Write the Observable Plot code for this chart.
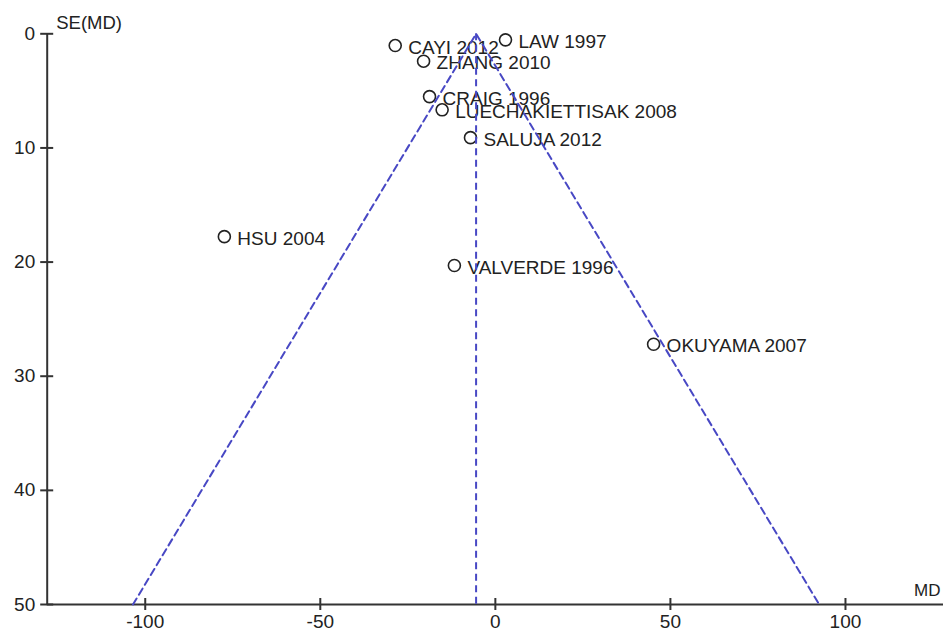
<!DOCTYPE html>
<html>
<head>
<meta charset="utf-8">
<script src="https://cdn.jsdelivr.net/npm/d3@7"></script>
<script src="https://cdn.jsdelivr.net/npm/@observablehq/plot@0.6"></script>
<style>
  html, body { margin: 0; padding: 0; background: #fff; }
  #chart { width: 946px; height: 631px; }
  svg { font-family: "Liberation Sans", Arial, sans-serif; }
</style>
</head>
<body>
<div id="chart"></div>
<script>
// Study names, mean differences (MD) and standard errors SE(MD)
const studies = ["LAW 1997", "CAYI 2012", "ZHANG 2010", "CRAIG 1996", "LUECHAKIETTISAK 2008", "SALUJA 2012", "HSU 2004", "VALVERDE 1996", "OKUYAMA 2007"];
const md      = [2.9, -28.6, -20.5, -18.8, -15.2, -7.1, -77.4, -11.7, 45.2];
const se      = [0.53, 1.03, 2.4, 5.5, 6.66, 9.1, 17.77, 20.3, 27.2];

// Pooled estimate and funnel limits
const pooled = -5.5;
const seMax = 50;
const xTicks = [-100, -50, 0, 50, 100];
const yTicks = [0, 10, 20, 30, 40, 50];

const data = studies.map((s, i) => ({study: s, md: md[i], se: se[i]}));
const funnel = [
  {x: pooled - 1.96 * seMax, y: seMax},
  {x: pooled, y: 0},
  {x: pooled + 1.96 * seMax, y: seMax}
];

const blue = "#4848c4";
const axisColor = "#333";
const fmt = d => String(d);

const chart = Plot.plot({
  width: 946,
  height: 631,
  marginLeft: 46.7,
  marginRight: 3,
  marginTop: 33.3,
  marginBottom: 27,
  style: {fontFamily: "'Liberation Sans', Arial, sans-serif", fontSize: "19px", color: "#222", background: "#fff"},
  x: {domain: [-128, 128], label: null},
  y: {domain: [0, 50], reverse: true, label: null},
  marks: [
    Plot.axisX(xTicks, {tickSize: 0, tickPadding: 10, fontSize: 19, fill: "#222", label: null, tickFormat: fmt}),
    Plot.axisY(yTicks, {tickSize: 0, tickPadding: 12, fontSize: 19, fill: "#222", label: null, tickFormat: fmt}),
    // axis lines
    Plot.ruleY([50], {stroke: axisColor, strokeWidth: 2}),
    Plot.ruleX([-128], {stroke: axisColor, strokeWidth: 2}),
    // crossing ticks
    Plot.ruleX(xTicks, {x: d => d, y1: 50, y2: 50, insetTop: -6, insetBottom: -6, stroke: axisColor, strokeWidth: 2}),
    Plot.ruleY(yTicks, {y: d => d, x1: -128, x2: -128, insetLeft: -6.5, insetRight: -6.5, stroke: axisColor, strokeWidth: 2}),
    // axis titles
    Plot.text(["SE(MD)"], {x: -128, y: 0, dx: 9, dy: -5, textAnchor: "start", lineAnchor: "bottom", fontSize: 18.5, fill: "#222"}),
    Plot.text(["MD"], {x: 128, y: 50, dx: -3, dy: -9, textAnchor: "end", lineAnchor: "bottom", fontSize: 17, fill: "#222"}),
    // study labels and points
    Plot.text(data, {x: "md", y: "se", text: "study", textAnchor: "start", dx: 13, dy: 2, fontSize: 19, fill: "#222"}),
    Plot.dot(data, {x: "md", y: "se", r: 6, stroke: "#222", strokeWidth: 1.6, fill: "none"}),
    // funnel
    Plot.line(funnel, {x: "x", y: "y", stroke: blue, strokeWidth: 2, strokeDasharray: "7,4.5"}),
    Plot.ruleX([pooled], {x: d => d, y1: 0, y2: seMax, stroke: blue, strokeWidth: 2, strokeDasharray: "7,4.5"})
  ]
});
document.getElementById("chart").appendChild(chart);
</script>
</body>
</html>
